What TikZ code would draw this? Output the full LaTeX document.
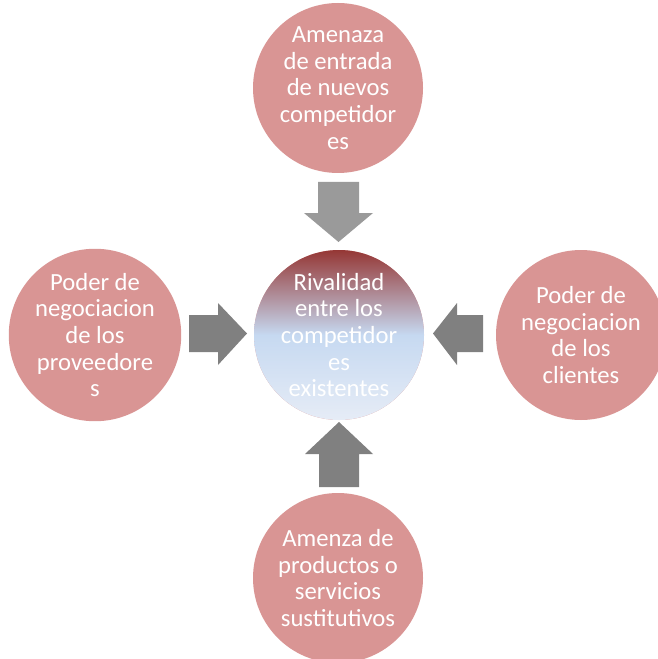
\documentclass[tikz,border=0pt]{standalone}
\usepackage{fontspec}
\setmainfont{Carlito}
\usetikzlibrary{positioning}
\definecolor{Rosa}{HTML}{D99594}
\definecolor{Vino}{HTML}{953735}
\definecolor{Cielo}{HTML}{C6D9F1}
\definecolor{Nube}{HTML}{E6ECF6}
\definecolor{GrisClaro}{HTML}{9A9A9A}
\definecolor{Gris}{HTML}{808080}

\tikzset{
  fuerza/.style={circle,fill=Rosa,text=white,minimum size=127.5pt,inner sep=0pt,
    align=center,font=\fontsize{18.5}{20}\selectfont},
  rivalidad/.style={fuerza,top color=Vino,bottom color=Nube,middle color=Cielo},
}

\begin{document}
\begin{tikzpicture}[x=0.75pt,y=-0.75pt]
    \useasboundingbox (0,0) rectangle (657,659);
    % circulos
    \node[rivalidad] (rival) at (339,335) {Rivalidad\\entre los\\competidor\\es\\existentes};
    \node[fuerza] (entrada) at (338,88) {Amenaza\\de entrada\\de nuevos\\competidor\\es};
    \node[fuerza] (proveedores) at (95,335) {Poder de\\negociacion\\de los\\proveedore\\s};
    \node[fuerza] (clientes) at (581,335) {Poder de\\negociacion\\de los\\clientes};
    \node[fuerza] (sustitutos) at (338,578) {Amenza de\\productos o\\servicios\\sustitutivos};
    % flechas
    \fill[GrisClaro] (318,182) -- (359,182) -- (359,213) -- (373,213) -- (338.5,242)
      -- (304,213) -- (318,213) -- cycle;
    \fill[Gris] (189,315) -- (218,315) -- (218,303) -- (247,333.5) -- (218,365)
      -- (218,352) -- (189,352) -- cycle;
    \fill[Gris] (483,315) -- (457,315) -- (457,303) -- (433,333.5) -- (457,365)
      -- (457,352) -- (483,352) -- cycle;
    \fill[Gris] (319,487) -- (319,454) -- (305,454) -- (339,422) -- (373,454)
      -- (359,454) -- (359,487) -- cycle;
  \end{tikzpicture}
\end{document}
